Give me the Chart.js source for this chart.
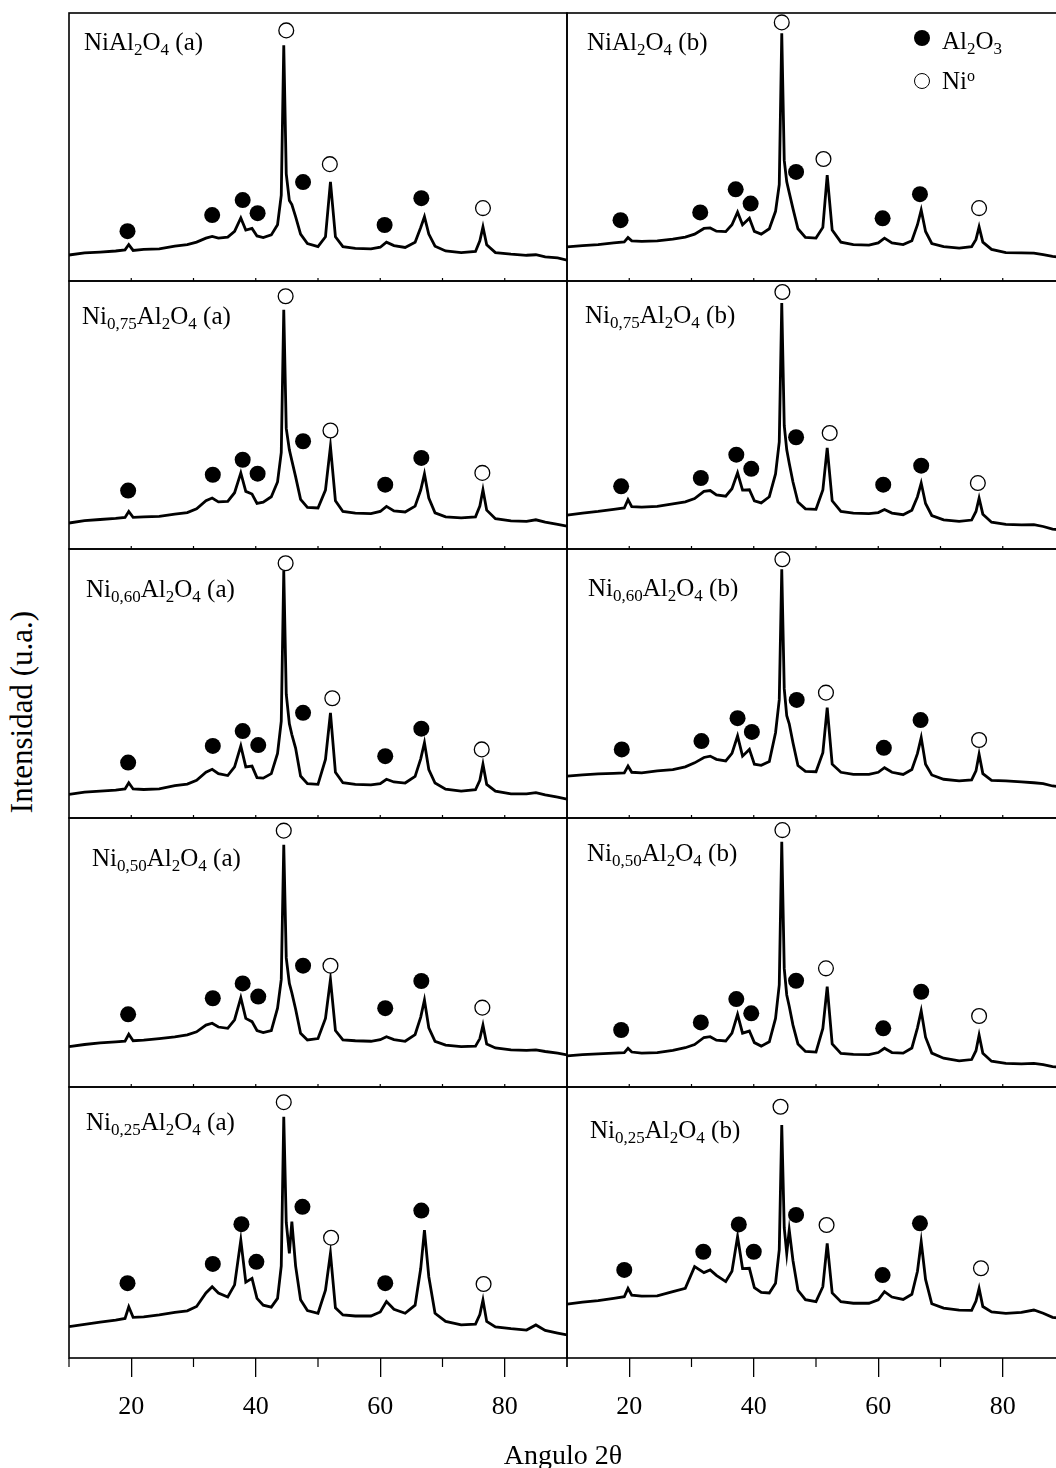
<!DOCTYPE html>
<html>
<head>
<meta charset="utf-8">
<script src="https://cdn.jsdelivr.net/npm/chart.js@4.4.1/dist/chart.umd.min.js"></script>
<style>
  html, body { margin: 0; padding: 0; background: #fff; }
  body { width: 1056px; height: 1468px; overflow: hidden; position: relative;
         font-family: 'Liberation Serif', 'Times New Roman', serif; color: #000; }
  canvas { position: absolute; }
  .lbl { position: absolute; font-size: 25px; line-height: 25px; white-space: nowrap; }
  .lbl sub { font-size: 17px; vertical-align: -5px; line-height: 0; }
  .lbl sup { font-size: 16px; vertical-align: 8px; line-height: 0; }
  .dot { position: absolute; width: 16px; height: 16px; border-radius: 50%; box-sizing: border-box; }
  .title { position: absolute; text-align: center; white-space: nowrap; }
</style>
</head>
<body>
<script>
// 2θ grids (left column "a", right column "b")
const anglesA = [10, 12.5, 15, 17.5, 19, 19.6, 20.3, 22, 24.5, 27, 29, 30.5, 32, 33, 34, 35.5, 36.6, 37.6, 38.4, 39.4,
  40.2, 41.2, 42.5, 43.5, 44.1, 44.5, 44.9, 45.4, 45.8, 46.4, 47.2, 48.3, 50, 51.2, 52.0, 52.8, 54, 56, 58.5, 60,
  61, 62.2, 64, 65.6, 66.5, 67.1, 67.8, 68.8, 70.5, 73, 75.3, 76.0, 76.5, 77.1, 78.5, 81, 83.5, 85, 86.5, 88.5, 90];
const anglesB = [10, 12.5, 15, 17.5, 19.2, 19.8, 20.4, 22, 24.5, 27, 29, 30.5, 32, 33, 34, 35.5, 36.5, 37.4, 38.2, 39.3,
  40.1, 41.2, 42.5, 43.5, 44.1, 44.5, 44.9, 45.3, 45.7, 46.3, 47.1, 48.3, 50, 51.1, 51.8, 52.6, 54, 56, 58.5, 60,
  61, 62.2, 64, 65.4, 66.3, 66.9, 67.6, 68.6, 70.5, 73, 75, 75.7, 76.2, 76.8, 78.2, 80.5, 83, 85, 86.5, 88, 90];

// intensities (% of panel height)
const int1a = [9.7, 10.5, 10.8, 11.2, 11.6, 13.6, 11.4, 11.8, 12.0, 13.0, 13.6, 14.5, 16.0, 16.6, 16.0, 16.4, 18.5, 23.5, 19.0, 19.6,
  16.8, 16.2, 17.2, 21, 32, 88, 40, 30, 28.5, 24, 17.5, 14.0, 12.8, 16.5, 37, 16.5, 12.8, 12.2, 12.0, 12.6,
  14.5, 13.2, 12.5, 14.5, 20, 24, 17.5, 13, 11.2, 10.6, 11, 15, 20.2, 13.5, 10.6, 10, 9.6, 9.8, 9.0, 8.6, 7.8];
const int2a = [9.7, 10.6, 11.0, 11.4, 11.8, 14.0, 11.8, 12.0, 12.2, 13.0, 13.6, 15.0, 18.0, 19.0, 17.6, 17.8, 21, 28.4, 21.5, 20.5,
  17.0, 17.5, 19.5, 25, 36, 89.3, 45, 37, 33, 27, 18.5, 15.5, 15.3, 22, 38.3, 18, 14, 13.4, 13.2, 14,
  15.9, 14.2, 13.8, 16, 22, 28, 19, 13.5, 12, 11.6, 12, 16, 22.1, 14.5, 11.3, 10.5, 10.3, 10.9, 10, 9.2, 8.5];
const int3a = [8.8, 9.6, 10.0, 10.4, 10.8, 13.1, 10.8, 10.6, 10.8, 12.0, 12.6, 14.0, 17.0, 18.1, 16.5, 15.8, 19, 26.8, 19, 19.3,
  15.0, 14.8, 16.5, 24, 36, 91.8, 46, 35, 31, 26, 15.6, 12.8, 12.5, 21.8, 39.1, 17, 13.1, 12.5, 12.3, 12.8,
  14.4, 13.4, 13, 15.5, 22, 28, 18, 13, 10.7, 10, 10.5, 14, 20, 12.5, 10, 9, 9.0, 9.4, 8.6, 7.8, 7.0];
const int4a = [15, 15.8, 16.4, 16.8, 17.0, 19.6, 17.2, 17.4, 18.0, 18.6, 19.4, 20.5, 23, 23.7, 22.3, 21.8, 25, 33.2, 25.5, 24.3,
  21, 20.2, 21, 29.3, 40, 90, 48, 38.5, 35, 29, 20, 17.5, 18, 25.5, 40, 21, 17.5, 17.2, 17.0, 17.6,
  18.7, 17.6, 17, 19.5, 26, 32.3, 22, 17, 15.6, 15, 15.2, 18, 23, 16, 14.5, 13.8, 13.6, 13.8, 13.2, 12.6, 11.9];
const int5a = [11.6, 12.4, 13.2, 14.0, 14.6, 18.9, 15.0, 15.2, 15.9, 16.8, 17.4, 19.0, 24, 26.3, 24, 22.5, 27, 43.5, 28, 29.4,
  22, 19.5, 18.8, 22, 34, 89, 50, 38.6, 50.3, 34, 21.5, 17.5, 16.5, 25, 38.6, 18.5, 15.9, 15.5, 15.5, 17,
  20.8, 18, 16.5, 19.5, 33, 47.2, 30, 16.5, 13.5, 12.2, 12.5, 16, 21.4, 13.5, 11.5, 10.8, 10.3, 12.2, 10.2, 9.2, 8.5];

const int1b = [12.7, 13.2, 13.6, 14.2, 14.6, 16.2, 15.0, 14.8, 15.0, 15.6, 16.4, 17.5, 19.6, 19.8, 18.6, 18.4, 21, 25.7, 21, 23.4,
  18.5, 17.5, 19.5, 26, 36, 92.4, 45, 37, 33, 27, 19.5, 16.3, 16, 20, 39.5, 19, 14.5, 13.6, 13.4, 14.2,
  16, 14.2, 13.6, 15, 21, 26.5, 18.5, 14, 12.8, 12.3, 12.8, 15.5, 20.2, 14.5, 11.8, 10.6, 10.5, 10.4, 9.8, 9.2, 8.6];
const int2b = [12.6, 13.4, 14.0, 14.8, 15.3, 18.4, 15.8, 15.6, 15.9, 16.8, 17.6, 18.8, 21.5, 21.8, 20.2, 19.7, 22.5, 28.4, 22, 22.1,
  18, 17.2, 19.5, 28, 40, 91.8, 46, 37, 32, 25, 17.5, 15.0, 14.8, 22, 37.7, 18, 14, 13.4, 13.2, 13.6,
  14.7, 13.4, 12.8, 14.5, 19.5, 24.6, 17, 12.5, 10.9, 10.3, 10.8, 14, 19, 13, 10, 9.2, 9.0, 9.1, 8.4, 7.4, 7.0];
const int3b = [15.6, 16.0, 16.4, 16.6, 16.8, 19.3, 17.0, 16.8, 17.5, 18.0, 19.0, 20.5, 22.5, 23.0, 21.8, 21.2, 24, 30.5, 23, 25.5,
  20, 19.6, 21, 31.7, 44, 92.5, 48, 38, 35, 28, 19.5, 17.3, 17.2, 24.3, 41, 20, 17, 16.2, 16.2, 17,
  18.7, 17, 16.2, 18, 24, 29.9, 20, 16, 14.4, 13.8, 14.2, 17.5, 23.7, 16.5, 14.0, 13.8, 13.4, 13.1, 12.8, 11.9, 11.4];
const int4b = [11.6, 12.0, 12.3, 12.6, 12.8, 14.4, 13.0, 12.6, 12.8, 13.6, 14.6, 15.8, 18.4, 18.7, 17.4, 17.1, 20, 27, 20, 20.8,
  16.5, 15.2, 16.8, 25.5, 38, 91.2, 44, 34.2, 30, 23, 16, 13.2, 13, 21.8, 37.3, 16, 12.5, 12.1, 12.0, 12.8,
  14.4, 12.8, 12.6, 14.5, 22, 28.3, 18.5, 12.6, 10.7, 9.7, 10.2, 13.5, 19.3, 12.5, 9.6, 8.8, 8.6, 8.8, 8.3, 7.6, 7.2];
const int5b = [19.9, 20.6, 21.2, 22.0, 22.6, 25.7, 23.2, 22.8, 22.9, 24.5, 25.7, 33.7, 31.5, 32.5, 30.5, 28.2, 32, 44.8, 33, 33.1,
  26, 24.2, 24, 27.6, 40, 86, 48, 38.6, 47.2, 36, 25, 21.5, 20.8, 26.3, 42.3, 24, 20.8, 20.2, 20.2, 21.5,
  24.5, 22.5, 21.6, 23.5, 32, 42.9, 29, 20, 18.4, 17.7, 17.6, 21, 25.7, 19, 17, 16.5, 16.8, 17.7, 16.5, 15, 14.5];

// phase markers [2θ, height]: filled = Al2O3, open = Ni°
const al1a = [[19.4, 18.6], [33.0, 24.6], [37.9, 30.2], [40.3, 25.3], [47.6, 36.9], [60.7, 20.9], [66.6, 30.9]];
const ni1a = [[44.9, 93.5], [51.9, 43.6], [76.5, 27.2]];
const al1b = [[18.6, 22.7], [31.4, 25.6], [37.1, 34.2], [39.5, 28.9], [46.8, 40.7], [60.7, 23.4], [66.7, 32.4]];
const ni1b = [[44.5, 96.5], [51.2, 45.5], [76.2, 27.2]];
const al2a = [[19.5, 21.8], [33.1, 27.7], [37.9, 33.3], [40.3, 28.1], [47.6, 40.2], [60.8, 24], [66.6, 34]];
const ni2a = [[44.8, 94.3], [52.0, 44.2], [76.4, 28.4]];
const al2b = [[18.7, 23.4], [31.5, 26.5], [37.2, 35.2], [39.6, 29.9], [46.8, 41.7], [60.8, 24], [66.9, 31.1]];
const ni2b = [[44.6, 95.9], [52.2, 43.3], [76.0, 24.6]];
const al3a = [[19.5, 20.6], [33.1, 26.8], [37.9, 32.3], [40.4, 27.1], [47.6, 39.1], [60.8, 23], [66.6, 33.2]];
const ni3a = [[44.8, 94.7], [52.3, 44.5], [76.3, 25.5]];
const al3b = [[18.8, 25.5], [31.6, 28.6], [37.4, 37.1], [39.7, 32], [46.9, 43.9], [60.9, 26.1], [66.8, 36.4]];
const ni3b = [[44.6, 96.2], [51.6, 46.6], [76.2, 29]];
const al4a = [[19.5, 27], [33.1, 33], [37.9, 38.5], [40.4, 33.6], [47.6, 45.1], [60.8, 29.3], [66.6, 39.4]];
const ni4a = [[44.5, 95.3], [52.0, 45.1], [76.4, 29.5]];
const al4b = [[18.7, 21.2], [31.5, 24], [37.2, 32.7], [39.6, 27.4], [46.8, 39.5], [60.8, 21.8], [66.9, 35.4]];
const ni4b = [[44.6, 95.5], [51.6, 44.1], [76.2, 26.4]];
const al5a = [[19.4, 27.6], [33.1, 34.7], [37.7, 49.4], [40.1, 35.5], [47.5, 55.8], [60.8, 27.6], [66.6, 54.4]];
const ni5a = [[44.5, 94.4], [52.1, 44.4], [76.6, 27.3]];
const al5b = [[19.2, 32.5], [31.9, 39.2], [37.6, 49.3], [40.0, 39.2], [46.8, 52.8], [60.7, 30.6], [66.7, 49.7]];
const ni5b = [[44.3, 92.7], [51.7, 49.1], [76.5, 33.1]];

const sampleNames = ['NiAl<sub>2</sub>O<sub>4</sub>', 'Ni<sub>0,75</sub>Al<sub>2</sub>O<sub>4</sub>',
  'Ni<sub>0,60</sub>Al<sub>2</sub>O<sub>4</sub>', 'Ni<sub>0,50</sub>Al<sub>2</sub>O<sub>4</sub>',
  'Ni<sub>0,25</sub>Al<sub>2</sub>O<sub>4</sub>'];
const xTickLabels = [20, 40, 60, 80];
const xMinorTicks = [10, 30, 50, 70, 90];

// --- layout ---
const colLeft = [69, 567];
const panelW = 498;
const rowEdges = [13, 281, 549, 818, 1087, 1358];
const PAD = 4;
const AXIS_H = 86;
// panel label anchor: [left, vertical centre of capitals]
const labelPos = [
  [[84, 42], [587, 42]],
  [[82, 316], [585, 315]],
  [[86, 589], [588, 588]],
  [[92, 858], [587, 853]],
  [[86, 1122], [590, 1130]]
];

const panels = [
  [int1a, al1a, ni1a, int1b, al1b, ni1b],
  [int2a, al2a, ni2a, int2b, al2b, ni2b],
  [int3a, al3a, ni3a, int3b, al3b, ni3b],
  [int4a, al4a, ni4a, int4b, al4b, ni4b],
  [int5a, al5a, ni5a, int5b, al5b, ni5b]
];

const framePlugin = {
  id: 'frame',
  afterDraw(chart, args, opts) {
    const { ctx, chartArea: a } = chart;
    const xs = chart.scales.x;
    ctx.save();
    ctx.strokeStyle = '#000';
    ctx.lineWidth = 1.6;
    ctx.strokeRect(a.left, a.top, a.right - a.left, a.bottom - a.top);
    ctx.lineWidth = 1.2;
    ctx.beginPath();
    if (opts.bottomAxis) {
      xMinorTicks.forEach(v => {
        const px = xs.getPixelForValue(v);
        ctx.moveTo(px, a.bottom);
        ctx.lineTo(px, a.bottom + 9);
      });
    } else {
      for (let v = 20; v <= 80; v += 10) {
        const px = xs.getPixelForValue(v);
        ctx.moveTo(px, a.bottom);
        ctx.lineTo(px, a.bottom - 3);
      }
    }
    ctx.stroke();
    ctx.restore();
  }
};

function toPts(xs, ys) {
  return xs.map((x, i) => ({ x: x, y: ys[i] }));
}
function markPts(m) {
  return m.map(p => ({ x: p[0], y: p[1] }));
}

panels.forEach((p, r) => {
  const bottom = r === rowEdges.length - 2;
  const h = rowEdges[r + 1] - rowEdges[r];
  for (let c = 0; c < 2; c++) {
    const ints = p[c * 3], al = p[c * 3 + 1], ni = p[c * 3 + 2];
    const angles = c === 0 ? anglesA : anglesB;
    const cv = document.createElement('canvas');
    const W = panelW + 2 * PAD;
    const H = h + PAD + (bottom ? AXIS_H : PAD);
    cv.width = W; cv.height = H;
    cv.style.left = (colLeft[c] - PAD) + 'px';
    cv.style.top = (rowEdges[r] - PAD) + 'px';
    cv.style.width = W + 'px'; cv.style.height = H + 'px';
    document.body.appendChild(cv);

    const xScale = {
      type: 'linear', min: 10, max: 90,
      display: bottom,
      afterBuildTicks: axis => { axis.ticks = xTickLabels.map(v => ({ value: v })); },
      grid: { display: true, drawOnChartArea: false, drawTicks: true, tickLength: 19,
              color: '#000', lineWidth: 1.3 },
      border: { display: false },
      ticks: { color: '#000', padding: 15, maxRotation: 0, autoSkip: false,
               font: { family: 'Liberation Serif', size: 26 } }
    };
    if (bottom) xScale.afterFit = s => { s.height = AXIS_H; };

    new Chart(cv, {
      type: 'scatter',
      data: {
        datasets: [
          {
            data: toPts(angles, ints), showLine: true, borderColor: '#000', borderWidth: 2.8,
            pointRadius: 0, tension: 0, order: 3
          },
          {
            data: markPts(al), pointRadius: 8, backgroundColor: '#000', borderWidth: 0,
            pointStyle: 'circle', clip: false, order: 2
          },
          {
            data: markPts(ni), pointRadius: 7.4, backgroundColor: '#fff', borderColor: '#000',
            borderWidth: 1.3, pointStyle: 'circle', clip: false, order: 1
          }
        ]
      },
      options: {
        responsive: false,
        devicePixelRatio: 1,
        animation: false,
        events: [],
        layout: { autoPadding: false, padding: { left: PAD, right: PAD, top: PAD, bottom: bottom ? 0 : PAD } },
        plugins: { legend: { display: false }, tooltip: { enabled: false }, frame: { bottomAxis: bottom } },
        scales: {
          x: xScale,
          y: { min: 0, max: 100, display: false }
        }
      },
      plugins: [framePlugin]
    });

    const lab = document.createElement('div');
    lab.className = 'lbl';
    lab.innerHTML = sampleNames[r] + ' (' + (c === 0 ? 'a' : 'b') + ')';
    lab.style.left = labelPos[r][c][0] + 'px';
    lab.style.top = (labelPos[r][c][1] - 12.6) + 'px';
    document.body.appendChild(lab);
  }
});

// legend (top-right panel)
function addDot(x, y, filled) {
  const d = document.createElement('div');
  d.className = 'dot';
  d.style.left = (x - 8) + 'px';
  d.style.top = (y - 8) + 'px';
  d.style.background = filled ? '#000' : '#fff';
  d.style.border = filled ? 'none' : '1.3px solid #000';
  document.body.appendChild(d);
}
function addText(html, x, yc) {
  const t = document.createElement('div');
  t.className = 'lbl';
  t.innerHTML = html;
  t.style.left = x + 'px';
  t.style.top = (yc - 12.6) + 'px';
  document.body.appendChild(t);
}
addDot(922, 38, true);
addText('Al<sub>2</sub>O<sub>3</sub>', 942, 41);
addDot(922, 81, false);
addText('Ni<sup>o</sup>', 942, 81);

// axis titles
const xt = document.createElement('div');
xt.className = 'title';
xt.textContent = 'Angulo 2θ';
xt.style.cssText += 'left:363px;width:400px;top:1440px;font-size:28px;line-height:30px;';
document.body.appendChild(xt);

const yt = document.createElement('div');
yt.className = 'title';
yt.textContent = 'Intensidad (u.a.)';
yt.style.cssText += 'left:-178px;width:400px;top:697px;font-size:31px;line-height:30px;transform:rotate(-90deg);';
document.body.appendChild(yt);
</script>
</body>
</html>
